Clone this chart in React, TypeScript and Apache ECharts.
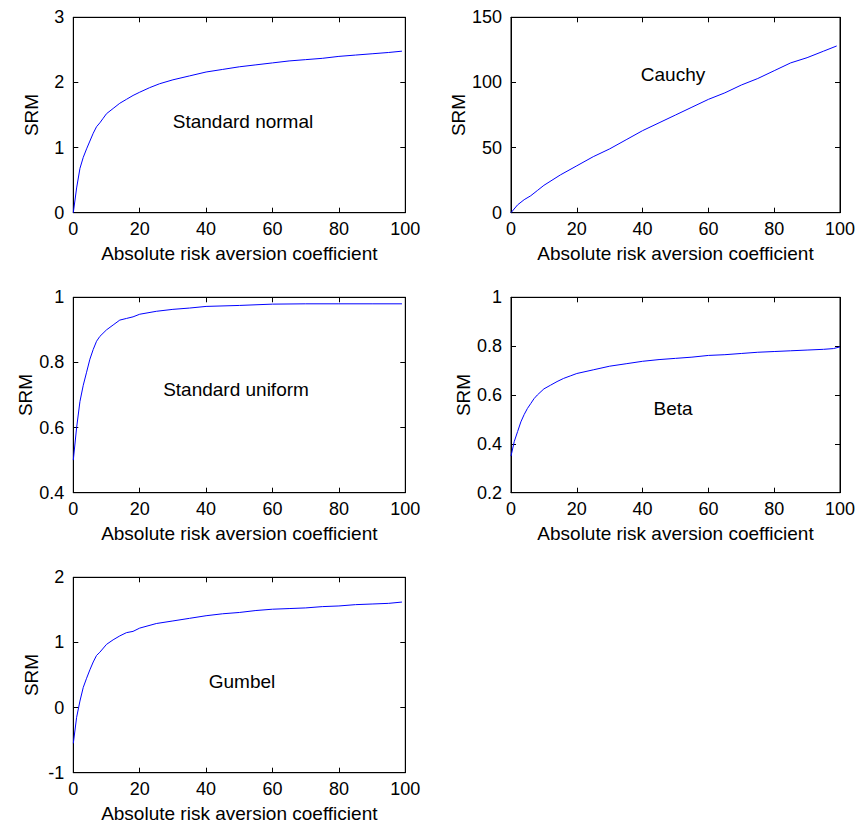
import React, { useEffect, useRef } from "react";
import * as echarts from "echarts";

// ---- data ----
const normalX = [0, 1, 2, 3, 4, 5, 6, 7, 8, 9, 10, 12, 14, 16, 18, 20, 23, 26, 30, 35, 40, 45, 50, 55, 60, 65, 70, 75, 80, 85, 90, 95, 99];
const normalY = [0, 0.38, 0.68, 0.85, 0.98, 1.1, 1.22, 1.32, 1.38, 1.45, 1.52, 1.6, 1.68, 1.74, 1.8, 1.85, 1.92, 1.98, 2.04, 2.1, 2.16, 2.2, 2.24, 2.27, 2.3, 2.33, 2.35, 2.37, 2.4, 2.42, 2.44, 2.46, 2.48];

const cauchyX = [0, 2, 4, 6, 8, 10, 15, 20, 25, 30, 35, 40, 45, 50, 55, 60, 65, 70, 75, 80, 85, 90, 95, 99];
const cauchyY = [0, 6, 10, 13, 17, 21, 29, 36, 43, 49, 56, 63, 69, 75, 81, 87, 92, 98, 103, 109, 115, 119, 124, 128];

const uniformX = [0, 1, 2, 3, 4, 5, 6, 7, 8, 10, 12, 14, 16, 18, 20, 25, 30, 35, 40, 50, 60, 70, 80, 90, 99];
const uniformY = [0.5, 0.6, 0.68, 0.73, 0.77, 0.81, 0.84, 0.865, 0.88, 0.9, 0.915, 0.93, 0.935, 0.94, 0.948, 0.957, 0.963, 0.967, 0.972, 0.975, 0.979, 0.98, 0.98, 0.98, 0.98];

const betaX = [0, 1, 2, 3, 4, 5, 6, 7, 8, 10, 12, 14, 16, 18, 20, 25, 30, 35, 40, 45, 50, 55, 60, 65, 70, 75, 80, 85, 90, 95, 98, 100];
const betaY = [0.35, 0.41, 0.45, 0.49, 0.52, 0.545, 0.565, 0.585, 0.6, 0.625, 0.64, 0.655, 0.668, 0.678, 0.688, 0.703, 0.718, 0.728, 0.738, 0.745, 0.75, 0.755, 0.762, 0.765, 0.77, 0.775, 0.778, 0.781, 0.784, 0.787, 0.79, 0.797];

const gumbelX = [0, 1, 2, 3, 4, 5, 6, 7, 8, 10, 12, 14, 16, 18, 20, 25, 30, 35, 40, 45, 50, 55, 60, 65, 70, 75, 80, 85, 90, 95, 99];
const gumbelY = [-0.55, -0.15, 0.1, 0.31, 0.45, 0.58, 0.7, 0.8, 0.85, 0.97, 1.04, 1.1, 1.15, 1.17, 1.22, 1.29, 1.33, 1.37, 1.41, 1.44, 1.46, 1.49, 1.51, 1.52, 1.53, 1.55, 1.56, 1.58, 1.59, 1.6, 1.62];

const panelLabels = ["Standard normal", "Cauchy", "Standard uniform", "Beta", "Gumbel"];
const yRanges = [
  [0, 3, 1],
  [0, 150, 50],
  [0.4, 1, 0.2],
  [0.2, 1, 0.2],
  [-1, 2, 1],
];
const xRange = [0, 100, 20];
const xName = "Absolute risk aversion coefficient";
const yName = "SRM";

const FONT = "'Liberation Sans', Arial, Helvetica, sans-serif";

export default function App() {
  const ref = useRef<HTMLDivElement>(null);

  useEffect(() => {
    if (!ref.current) return;
    const chart = echarts.init(ref.current, undefined, { renderer: "svg" });

    const xs = [normalX, cauchyX, uniformX, betaX, gumbelX];
    const ys = [normalY, cauchyY, uniformY, betaY, gumbelY];
    const grids = [
      { left: 73.3, top: 17.3, width: 332, height: 195.4 },
      { left: 511, top: 17.3, width: 329, height: 195.4 },
      { left: 73.3, top: 297.3, width: 332, height: 195.4 },
      { left: 511, top: 297.3, width: 329, height: 195.4 },
      { left: 73.3, top: 577.3, width: 332, height: 195.4 },
    ];
    const labelPos = [
      [243, 121],
      [673, 74],
      [236, 389],
      [673, 408],
      [242, 681],
    ];

    const xAxes: any[] = [];
    const yAxes: any[] = [];
    const series: any[] = [];
    const graphics: any[] = [];

    grids.forEach((g, i) => {
      const [ymin, ymax, yint] = yRanges[i];
      const baseX = {
        type: "value",
        gridIndex: i,
        min: xRange[0],
        max: xRange[1],
        interval: xRange[2],
        splitLine: { show: false },
        axisLine: { show: true, onZero: false, lineStyle: { color: "#000", width: 1 } },
        axisTick: { show: true, inside: true, length: 5, lineStyle: { color: "#000" } },
      };
      xAxes.push({
        ...baseX,
        position: "bottom",
        name: xName,
        nameLocation: "middle",
        nameGap: 31,
        nameTextStyle: { color: "#000", fontSize: 19, fontFamily: FONT },
        axisLabel: { show: true, color: "#000", fontSize: 18, fontFamily: FONT, margin: 7 },
      });
      xAxes.push({
        ...baseX,
        position: "top",
        axisLabel: { show: false },
      });
      const baseY = {
        type: "value",
        gridIndex: i,
        min: ymin,
        max: ymax,
        interval: yint,
        splitLine: { show: false },
        axisLine: { show: true, onZero: false, lineStyle: { color: "#000", width: 1 } },
        axisTick: { show: true, inside: true, length: 5, lineStyle: { color: "#000" } },
      };
      yAxes.push({
        ...baseY,
        position: "left",
        name: yName,
        nameLocation: "middle",
        nameGap: 32,
        nameRotate: 90,
        nameTextStyle: { color: "#000", fontSize: 19, fontFamily: FONT },
        axisLabel: { show: true, color: "#000", fontSize: 18, fontFamily: FONT, margin: 9 },
      });
      yAxes.push({
        ...baseY,
        position: "right",
        axisLabel: { show: false },
      });
      series.push({
        type: "line",
        xAxisIndex: 2 * i,
        yAxisIndex: 2 * i,
        data: xs[i].map((x, k) => [x, ys[i][k]]),
        showSymbol: false,
        symbol: "none",
        lineStyle: { color: "#0000ff", width: 1 },
        itemStyle: { color: "#0000ff" },
      });
      graphics.push({
        type: "text",
        x: labelPos[i][0],
        y: labelPos[i][1],
        style: {
          text: panelLabels[i],
          fill: "#000",
          fontSize: 19,
          fontFamily: FONT,
          textAlign: "center",
          textVerticalAlign: "middle",
          align: "center",
          verticalAlign: "middle",
        },
      });
    });

    chart.setOption({
      animation: false,
      backgroundColor: "#fff",
      grid: grids.map((g) => ({ ...g, show: true, borderColor: "#000", borderWidth: 1, backgroundColor: "#fff" })),
      xAxis: xAxes,
      yAxis: yAxes,
      series,
      graphic: graphics,
    });

    return () => chart.dispose();
  }, []);

  return (
    <div
      ref={ref}
      style={{ position: "absolute", left: 0, top: 0, width: 859, height: 826, background: "#fff" }}
    />
  );
}
